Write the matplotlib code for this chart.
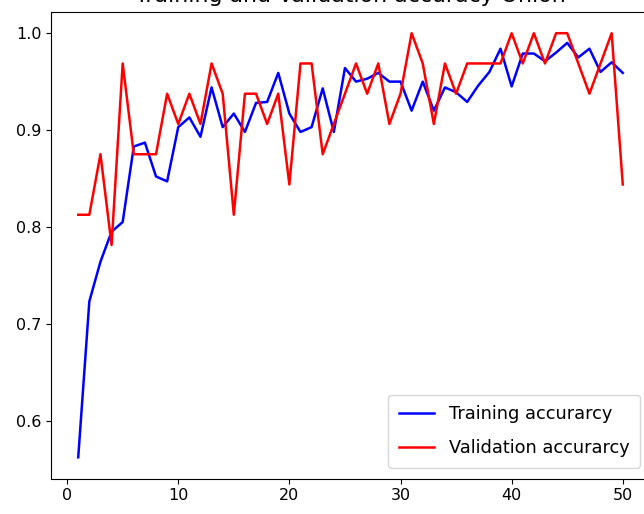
import matplotlib
matplotlib.use("Agg")
import matplotlib.pyplot as plt

# epochs and accuracy values
epochs = list(range(1, 51))

train_acc = [
    0.562, 0.723, 0.764, 0.795, 0.805, 0.883, 0.887, 0.852, 0.847, 0.903,
    0.913, 0.893, 0.944, 0.903, 0.917, 0.898, 0.928, 0.929, 0.959, 0.917,
    0.898, 0.903, 0.943, 0.898, 0.964, 0.950, 0.953, 0.959, 0.950, 0.950,
    0.920, 0.950, 0.920, 0.944, 0.939, 0.929, 0.946, 0.960, 0.984, 0.945,
    0.979, 0.979, 0.971, 0.980, 0.990, 0.975, 0.984, 0.960, 0.970, 0.959,
]

val_acc = [
    0.8125, 0.8125, 0.875, 0.78125, 0.96875, 0.875, 0.875, 0.875, 0.9375, 0.90625,
    0.9375, 0.90625, 0.96875, 0.9375, 0.8125, 0.9375, 0.9375, 0.90625, 0.9375, 0.84375,
    0.96875, 0.96875, 0.875, 0.90625, 0.9375, 0.96875, 0.9375, 0.96875, 0.90625, 0.9375,
    1.0, 0.96875, 0.90625, 0.96875, 0.9375, 0.96875, 0.96875, 0.96875, 0.96875, 1.0,
    0.96875, 1.0, 0.96875, 1.0, 1.0, 0.96875, 0.9375, 0.96875, 1.0, 0.84375,
]

title = "Training and Validation accuracy Onion"

fig = plt.figure(figsize=(6.44, 5.14), dpi=100)
# the reference is a crop: the title and the right spine fall outside it
ax = fig.add_axes([51 / 644, 35.5 / 514, 599 / 644, 466.5 / 514])

ax.plot(epochs, train_acc, color="b", lw=1.8, label="Training accurarcy")
ax.plot(epochs, val_acc, color="r", lw=1.8, label="Validation accurarcy")

ax.set_xticks([0, 10, 20, 30, 40, 50])
ax.set_yticks([0.6, 0.7, 0.8, 0.9, 1.0])
ax.tick_params(labelsize=11.5)
ax.set_title(title, fontsize=15.8, pad=7)
ax.legend(loc="lower right", fontsize=12.8, labelspacing=0.9, borderpad=0.6,
          borderaxespad=0, bbox_to_anchor=(589 / 599, 10.5 / 466.5))

fig.savefig("out.png", dpi=100)
